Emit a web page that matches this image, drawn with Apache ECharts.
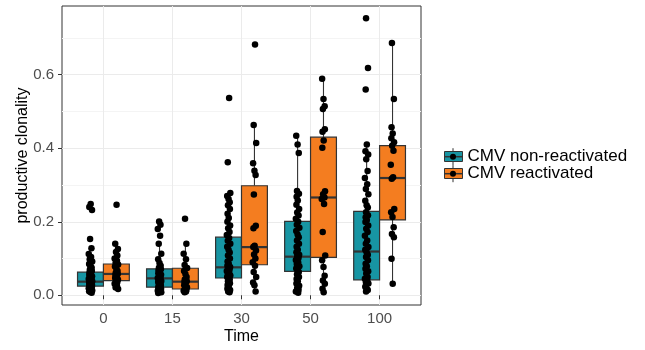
<!DOCTYPE html>
<html>
<head>
<meta charset="utf-8">
<script src="https://cdn.jsdelivr.net/npm/echarts@6/dist/echarts.min.js"></script>
<style>html,body{margin:0;padding:0;background:#fff}#c{width:645px;height:350px}</style>
</head>
<body>
<div id="c"></div>
<script>
// ---- data ----
const TIME_LABELS = ['0', '15', '30', '50', '100'];
const GROUP_NAMES = ['CMV non-reactivated', 'CMV reactivated'];
const Y_TICKS = [0, 0.2, 0.4, 0.6];

// box statistics per time point (lower whisker, Q1, median, Q3, upper whisker)
const nonReactLow = [0.007, 0.006, 0.008, 0.007, 0.010];
const nonReactQ1  = [0.025, 0.022, 0.047, 0.065, 0.042];
const nonReactMed = [0.037, 0.046, 0.076, 0.105, 0.119];
const nonReactQ3  = [0.063, 0.072, 0.158, 0.201, 0.228];
const nonReactHigh= [0.112, 0.140, 0.278, 0.434, 0.410];

const reactLow = [0.017, 0.008, 0.010, 0.008, 0.031];
const reactQ1  = [0.040, 0.017, 0.083, 0.103, 0.205];
const reactMed = [0.058, 0.037, 0.131, 0.266, 0.319];
const reactQ3  = [0.085, 0.0735, 0.298, 0.430, 0.407];
const reactHigh= [0.140, 0.140, 0.463, 0.589, 0.686];

// individual observations
const nonReact0 = [0.248,0.240,0.232,0.153,0.128,0.112,0.104,0.098,0.092,0.085,0.080,0.075,0.070,0.066,0.062,0.058,0.055,0.052,0.049,0.046,0.044,0.042,0.040,0.038,0.036,0.035,0.033,0.031,0.030,0.029,0.027,0.026,0.025,0.023,0.021,0.019,0.017,0.015,0.013,0.011,0.009,0.007];
const nonReact15 = [0.201,0.192,0.180,0.162,0.140,0.113,0.098,0.088,0.080,0.075,0.071,0.068,0.064,0.060,0.056,0.052,0.049,0.047,0.045,0.042,0.039,0.036,0.033,0.030,0.028,0.026,0.024,0.022,0.020,0.018,0.016,0.014,0.012,0.010,0.009,0.008,0.006];
const nonReact30 = [0.537,0.362,0.278,0.270,0.262,0.253,0.245,0.235,0.222,0.210,0.200,0.190,0.182,0.172,0.164,0.156,0.148,0.140,0.132,0.124,0.116,0.108,0.100,0.092,0.086,0.080,0.077,0.074,0.070,0.066,0.062,0.058,0.054,0.050,0.047,0.043,0.038,0.033,0.028,0.023,0.018,0.014,0.010,0.008];
const nonReact50 = [0.434,0.410,0.387,0.284,0.276,0.268,0.258,0.246,0.235,0.225,0.217,0.208,0.200,0.192,0.184,0.175,0.165,0.158,0.149,0.140,0.132,0.124,0.117,0.110,0.106,0.102,0.096,0.090,0.085,0.079,0.073,0.068,0.063,0.057,0.050,0.044,0.038,0.032,0.026,0.020,0.015,0.010,0.007];
const nonReact100 = [0.754,0.618,0.560,0.410,0.392,0.383,0.370,0.338,0.319,0.302,0.289,0.275,0.257,0.245,0.239,0.226,0.218,0.212,0.205,0.199,0.190,0.181,0.172,0.162,0.149,0.140,0.131,0.124,0.117,0.110,0.104,0.095,0.086,0.079,0.072,0.065,0.059,0.050,0.045,0.041,0.036,0.032,0.023,0.018,0.014,0.010];

const react0 = [0.246,0.140,0.126,0.118,0.108,0.100,0.094,0.088,0.084,0.078,0.072,0.066,0.061,0.058,0.055,0.051,0.047,0.043,0.040,0.036,0.031,0.026,0.021,0.017];
const react15 = [0.208,0.140,0.113,0.098,0.082,0.074,0.066,0.058,0.050,0.043,0.038,0.036,0.032,0.027,0.022,0.018,0.015,0.012,0.010,0.008];
const react30 = [0.682,0.463,0.414,0.359,0.339,0.327,0.274,0.189,0.182,0.135,0.131,0.122,0.111,0.100,0.090,0.080,0.063,0.050,0.035,0.027,0.010];
const react50 = [0.589,0.534,0.514,0.507,0.452,0.445,0.421,0.401,0.283,0.275,0.266,0.262,0.248,0.172,0.108,0.095,0.077,0.053,0.040,0.031,0.018,0.008];
const react100 = [0.686,0.534,0.457,0.440,0.427,0.416,0.407,0.393,0.355,0.321,0.317,0.235,0.226,0.213,0.185,0.167,0.158,0.099,0.031];

// ---- style / layout constants ----
const COLORS = ['#1795a3', '#f47d20'];
const DODGE = [-0.1875, 0.1875];
const BOX_W = 0.375;
const JITTER_W = 0.028;
const JITTER_PATTERN = [0.1,-0.6,0.8,-0.2,0.5,-0.9,0.3,-0.4,0.9,-0.7,0.0,0.6,-0.3,0.7,-0.5];
const FONT = 'Liberation Sans, Arial, sans-serif';

const groupsStats = [
  [nonReactLow, nonReactQ1, nonReactMed, nonReactQ3, nonReactHigh],
  [reactLow, reactQ1, reactMed, reactQ3, reactHigh]
];
const groupsPoints = [
  [nonReact0, nonReact15, nonReact30, nonReact50, nonReact100],
  [react0, react15, react30, react50, react100]
];

function boxData(g) {
  const s = groupsStats[g];
  return TIME_LABELS.map((_, i) => [i + 1 + DODGE[g], s[0][i], s[1][i], s[2][i], s[3][i], s[4][i]]);
}
function pointData(g) {
  const out = [];
  groupsPoints[g].forEach((arr, i) => {
    arr.forEach((v, k) => {
      out.push([i + 1 + DODGE[g] + JITTER_PATTERN[(k + i * 3) % JITTER_PATTERN.length] * JITTER_W, v]);
    });
  });
  return out;
}

function makeRender(color) {
  return function (params, api) {
    const x = api.value(0);
    const lo = api.coord([x, api.value(1)]);
    const q1 = api.coord([x, api.value(2)]);
    const md = api.coord([x, api.value(3)]);
    const q3 = api.coord([x, api.value(4)]);
    const hi = api.coord([x, api.value(5)]);
    const left = api.coord([x - BOX_W / 2, 0])[0];
    const right = api.coord([x + BOX_W / 2, 0])[0];
    const cx = lo[0];
    const stroke = '#333333';
    return {
      type: 'group',
      children: [
        { type: 'line', shape: { x1: cx, y1: hi[1], x2: cx, y2: q3[1] }, style: { stroke, lineWidth: 1.1 } },
        { type: 'line', shape: { x1: cx, y1: q1[1], x2: cx, y2: lo[1] }, style: { stroke, lineWidth: 1.1 } },
        { type: 'rect', shape: { x: left, y: q3[1], width: right - left, height: q1[1] - q3[1] },
          style: { fill: color, stroke, lineWidth: 1.2 } },
        { type: 'line', shape: { x1: left, y1: md[1], x2: right, y2: md[1] }, style: { stroke, lineWidth: 2.2 } }
      ]
    };
  };
}

const chart = echarts.init(document.getElementById('c'), null, { renderer: 'canvas' });

const series = [];
GROUP_NAMES.forEach((name, g) => {
  series.push({
    name,
    type: 'custom',
    renderItem: makeRender(COLORS[g]),
    itemStyle: { color: COLORS[g] },
    encode: { x: 0, y: [1, 2, 3, 4, 5] },
    data: boxData(g),
    z: 2,
    silent: true
  });
});
GROUP_NAMES.forEach((name, g) => {
  series.push({
    name: name + ' points',
    type: 'scatter',
    data: pointData(g),
    symbolSize: 6.5,
    itemStyle: { color: '#000000', opacity: 1 },
    z: 5,
    silent: true
  });
});

const YMIN = -0.0265, YMAX = 0.787;

function legendOverlay(cy) {
  return [
    { type: 'line', shape: { x1: 453, y1: cy - 8.5, x2: 453, y2: cy - 5 }, style: { stroke: '#333', lineWidth: 1 }, z: 100 },
    { type: 'line', shape: { x1: 453, y1: cy + 5, x2: 453, y2: cy + 8.5 }, style: { stroke: '#333', lineWidth: 1 }, z: 100 },
    { type: 'line', shape: { x1: 444, y1: cy, x2: 462, y2: cy }, style: { stroke: '#333', lineWidth: 1.5 }, z: 100 },
    { type: 'circle', shape: { cx: 453, cy: cy, r: 3 }, style: { fill: '#000' }, z: 101 }
  ];
}

chart.setOption({
  animation: false,
  textStyle: { fontFamily: FONT },
  grid: { left: 62, right: 224, top: 6, bottom: 43.5, show: true, borderColor: '#333333', borderWidth: 1, backgroundColor: 'transparent' },
  xAxis: {
    type: 'value', min: 0.4, max: 5.6,
    name: 'Time', nameLocation: 'middle', nameGap: 24, nameMoveOverlap: false,
    nameTextStyle: { fontSize: 16, color: '#000', fontFamily: FONT },
    axisLine: { show: false },
    axisTick: { show: true, length: 4, customValues: [1, 2, 3, 4, 5], lineStyle: { color: '#333' } },
    axisLabel: { customValues: [1, 2, 3, 4, 5], formatter: v => TIME_LABELS[Math.round(v) - 1], fontSize: 15, color: '#4d4d4d', margin: 6, fontFamily: FONT },
    splitLine: { show: true, lineStyle: { color: '#ebebeb', width: 1 } }
  },
  yAxis: [{
    type: 'value', min: YMIN, max: YMAX,
    name: 'productive clonality', nameLocation: 'middle', nameGap: 31, nameMoveOverlap: false,
    nameTextStyle: { fontSize: 16, color: '#000', fontFamily: FONT },
    axisLine: { show: false },
    axisTick: { show: true, length: 4, customValues: Y_TICKS, lineStyle: { color: '#333' } },
    axisLabel: { customValues: Y_TICKS, formatter: v => v.toFixed(1), fontSize: 15, color: '#4d4d4d', margin: 8, fontFamily: FONT },
    splitLine: { show: true, lineStyle: { color: '#ebebeb', width: 1 } }
  }, {
    type: 'value', min: YMIN, max: YMAX, position: 'left',
    axisLine: { show: false },
    axisTick: { show: false, customValues: [0.1, 0.3, 0.5, 0.7] },
    axisLabel: { show: false, customValues: [0.1, 0.3, 0.5, 0.7] },
    splitLine: { show: true, lineStyle: { color: '#f4f4f4', width: 1 } }
  }],
  legend: {
    data: GROUP_NAMES,
    orient: 'vertical',
    left: 439, top: 143,
    itemWidth: 18, itemHeight: 10, itemGap: 0,
    icon: 'rect',
    itemStyle: { borderColor: '#333333', borderWidth: 1 },
    textStyle: { fontSize: 17, color: '#000', lineHeight: 17, fontFamily: FONT },
    selectedMode: false
  },
  graphic: legendOverlay(156.7).concat(legendOverlay(173.7)),
  series
});
</script>
</body>
</html>
